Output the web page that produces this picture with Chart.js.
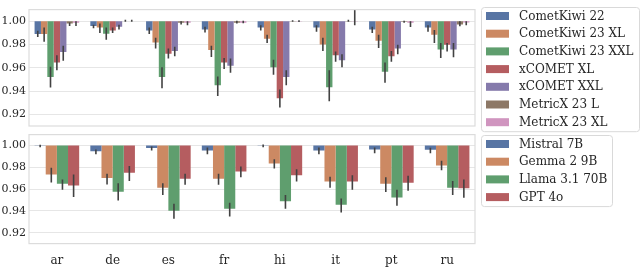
<!DOCTYPE html>
<html>
<head>
<meta charset="utf-8">
<script src="https://cdn.jsdelivr.net/npm/chart.js@4.4.1/dist/chart.umd.min.js"></script>
<style>
  html, body { margin: 0; padding: 0; background: #fff; }
  #wrap { position: relative; width: 640px; height: 270px; overflow: hidden; }
  canvas { position: absolute; left: 0; }
</style>
</head>
<body>
<div id="wrap">
  <canvas id="top-chart" width="640" height="140" style="top:0"></canvas>
  <canvas id="bottom-chart" width="640" height="145" style="top:125px"></canvas>
</div>
<script>
const languages = ['ar', 'de', 'es', 'fr', 'hi', 'it', 'pt', 'ru'];
const yTicks = [0.92, 0.94, 0.96, 0.98, 1.00];

// top panel: QE / reference-free metrics
const metricNames = ['CometKiwi 22', 'CometKiwi 23 XL', 'CometKiwi 23 XXL', 'xCOMET XL', 'xCOMET XXL', 'MetricX 23 L', 'MetricX 23 XL'];
const cometKiwi22      = [0.989, 0.996, 0.992, 0.993, 0.9947, 0.9947, 0.993, 0.9947];
const cometKiwi23XL    = [0.989, 0.9947, 0.9818, 0.9752, 0.985, 0.980, 0.9832, 0.9885];
const cometKiwi23XXL   = [0.952, 0.9893, 0.952, 0.945, 0.9605, 0.9432, 0.9565, 0.9757];
const xCometXL         = [0.9645, 0.992, 0.972, 0.9645, 0.9338, 0.9707, 0.9699, 0.9797];
const xCometXXL        = [0.9736, 0.9952, 0.9744, 0.9618, 0.952, 0.9664, 0.9765, 0.9757];
const metricX23L       = [0.998, 0.9999, 0.9987, 0.9987, 0.9998, 0.9998, 0.9995, 0.9973];
const metricX23XL      = [0.9987, 0.9999, 0.9987, 0.9987, 0.9997, 1.0002, 0.9987, 0.999];
// confidence intervals [low, high]
const cometKiwi22Ci    = [[0.9864, 0.9918], [0.994, 0.997], [0.989, 0.9947], [0.9904, 0.9952], [0.992, 0.9965], [0.991, 0.9965], [0.9899, 0.9952], [0.991, 0.9965]];
const cometKiwi23XLCi  = [[0.9824, 0.9947], [0.990, 0.998], [0.9765, 0.9859], [0.9693, 0.979], [0.9813, 0.9885], [0.9744, 0.9859], [0.977, 0.9885], [0.9813, 0.9925]];
const cometKiwi23XXLCi = [[0.943, 0.961], [0.984, 0.9947], [0.9424, 0.9605], [0.9357, 0.9525], [0.954, 0.967], [0.9312, 0.958], [0.9472, 0.9645], [0.9685, 0.9813]];
const xCometXLCi       = [[0.958, 0.9707], [0.990, 0.9947], [0.968, 0.9765], [0.959, 0.9685], [0.9258, 0.9413], [0.9653, 0.9739], [0.9653, 0.9744], [0.9739, 0.9813]];
const xCometXXLCi      = [[0.966, 0.979], [0.993, 0.997], [0.970, 0.978], [0.9557, 0.968], [0.945, 0.958], [0.9605, 0.9717], [0.9717, 0.9797], [0.969, 0.9813]];
const metricX23LCi     = [[0.996, 0.999], [0.9995, 1.0012], [0.9973, 1.0], [0.998, 1.0005], [0.9995, 1.0008], [0.9995, 1.0013], [0.9987, 1.0005], [0.9958, 1.0]];
const metricX23XLCi    = [[0.996, 1.0], [0.9995, 1.0012], [0.9965, 1.0], [0.9982, 1.0005], [0.9993, 1.0008], [0.9965, 1.012], [0.995, 1.0], [0.9965, 1.0]];

// bottom panel: LLM judges
const llmNames = ['Mistral 7B', 'Gemma 2 9B', 'Llama 3.1 70B', 'GPT 4o'];
const mistral7B   = [0.9998, 0.9947, 0.9976, 0.9955, 0.9998, 0.9955, 0.9963, 0.996];
const gemma29B    = [0.9733, 0.9701, 0.9613, 0.9696, 0.9835, 0.9669, 0.9648, 0.9816];
const llama3170B  = [0.9648, 0.9576, 0.9402, 0.942, 0.9488, 0.9456, 0.9522, 0.9613];
const gpt4o       = [0.9634, 0.9749, 0.9696, 0.9762, 0.9728, 0.9669, 0.9659, 0.9608];
const mistral7BCi  = [[0.9985, 1.0008], [0.992, 0.9963], [0.9955, 0.999], [0.992, 0.9981], [0.9985, 1.001], [0.992, 0.9981], [0.9928, 0.9981], [0.9928, 0.998]];
const gemma29BCi   = [[0.9661, 0.9795], [0.9642, 0.9741], [0.9546, 0.9653], [0.964, 0.9741], [0.979, 0.9875], [0.9613, 0.9714], [0.9573, 0.9709], [0.9773, 0.9861]];
const llama3170BCi = [[0.9594, 0.9688], [0.9496, 0.9653], [0.9327, 0.9466], [0.9349, 0.9474], [0.942, 0.9546], [0.9386, 0.9514], [0.9448, 0.9594], [0.9546, 0.9675]];
const gpt4oCi      = [[0.9528, 0.9733], [0.9674, 0.9813], [0.964, 0.9741], [0.9709, 0.9808], [0.9669, 0.9781], [0.9594, 0.9728], [0.9586, 0.9722], [0.952, 0.9688]];

const palette = ['#5875a4', '#cc8963', '#5f9e6e', '#b55d60', '#857aab', '#8d7866', '#d095bf'];
const FONT = "'DejaVu Serif', 'Liberation Serif', serif";
const TEXT = '#262626';

// bars hang from 1.0 down to the value
function hanging(values) {
  return values.map(v => [1.0, v]);
}

function makeDatasets(names, series, cis) {
  return names.map((name, i) => ({
    label: name,
    data: hanging(series[i]),
    ci: cis[i],
    backgroundColor: palette[i],
    borderWidth: 0,
    categoryPercentage: 0.8,
    barPercentage: 1.0,
  }));
}

const errorBars = {
  id: 'errorBars',
  afterDatasetsDraw(chart) {
    const { ctx, chartArea, scales } = chart;
    ctx.save();
    ctx.beginPath();
    ctx.rect(chartArea.left, chartArea.top, chartArea.width, chartArea.height);
    ctx.clip();
    ctx.strokeStyle = '#424242';
    ctx.lineWidth = 1.6;
    chart.data.datasets.forEach((ds, i) => {
      chart.getDatasetMeta(i).data.forEach((bar, j) => {
        const [lo, hi] = ds.ci[j];
        ctx.beginPath();
        ctx.moveTo(bar.x, scales.y.getPixelForValue(lo));
        ctx.lineTo(bar.x, scales.y.getPixelForValue(hi));
        ctx.stroke();
      });
    });
    ctx.restore();
  },
};

// seaborn-ish framed legend to the right of the panel
const boxLegend = {
  id: 'boxLegend',
  afterDraw(chart, args, opts) {
    const { ctx } = chart;
    const items = chart.data.datasets;
    const { left, top, right, firstY, step } = opts;
    const bottom = firstY + step * (items.length - 1) + 9;
    ctx.save();
    ctx.fillStyle = '#fff';
    ctx.strokeStyle = '#d9d9d9';
    ctx.lineWidth = 1;
    ctx.beginPath();
    ctx.roundRect(left + 0.5, top + 0.5, right - left, bottom - top, 3);
    ctx.fill();
    ctx.stroke();
    ctx.font = `12px ${FONT}`;
    ctx.textBaseline = 'middle';
    items.forEach((ds, i) => {
      const y = firstY + step * i;
      ctx.fillStyle = ds.backgroundColor;
      ctx.fillRect(left + 5, y - 4, 23, 8);
      ctx.fillStyle = TEXT;
      ctx.fillText(ds.label, left + 38, y + 0.5);
    });
    ctx.restore();
  },
};

const frame = {
  id: 'frame',
  afterDraw(chart) {
    const { ctx, chartArea: a } = chart;
    ctx.save();
    ctx.strokeStyle = '#dcdcdc';
    ctx.lineWidth = 1.2;
    ctx.strokeRect(a.left, a.top, a.width, a.height);
    ctx.restore();
  },
};

function makeOptions(showX, padding, legendBox) {
  return {
    responsive: false,
    animation: false,
    layout: { padding },
    plugins: {
      tooltip: { enabled: false },
      legend: { display: false },
      boxLegend: legendBox,
    },
    scales: {
      x: {
        display: showX,
        grid: { display: false },
        border: { display: false },
        ticks: { font: { family: FONT, size: 12 }, color: TEXT, padding: 2 },
      },
      y: {
        min: 0.91,
        max: 1.01,
        afterBuildTicks: axis => { axis.ticks = yTicks.map(v => ({ value: v })); },
        afterFit: axis => { axis.width = 29; },
        grid: { color: '#e6e6e6', lineWidth: 1, drawTicks: false },
        border: { display: false },
        ticks: {
          font: { family: FONT, size: 11 },
          color: TEXT,
          padding: 3,
          callback: v => v.toFixed(2),
        },
      },
    },
  };
}

new Chart(document.getElementById('top-chart'), {
  type: 'bar',
  data: {
    labels: languages,
    datasets: makeDatasets(metricNames,
      [cometKiwi22, cometKiwi23XL, cometKiwi23XXL, xCometXL, xCometXXL, metricX23L, metricX23XL],
      [cometKiwi22Ci, cometKiwi23XLCi, cometKiwi23XXLCi, xCometXLCi, xCometXXLCi, metricX23LCi, metricX23XLCi]),
  },
  options: makeOptions(false, { top: 2, bottom: 14, left: 0, right: 165 },
    { left: 481, top: 7, right: 639, firstY: 16, step: 17.7 }),
  plugins: [errorBars, frame, boxLegend],
});

new Chart(document.getElementById('bottom-chart'), {
  type: 'bar',
  data: {
    labels: languages,
    datasets: makeDatasets(llmNames,
      [mistral7B, gemma29B, llama3170B, gpt4o],
      [mistral7BCi, gemma29BCi, llama3170BCi, gpt4oCi]),
  },
  options: makeOptions(true, { top: 4, bottom: 0, left: 0, right: 165 },
    { left: 481, top: 10, right: 612, firstY: 19, step: 17.7 }),
  plugins: [errorBars, frame, boxLegend],
});
</script>
</body>
</html>
